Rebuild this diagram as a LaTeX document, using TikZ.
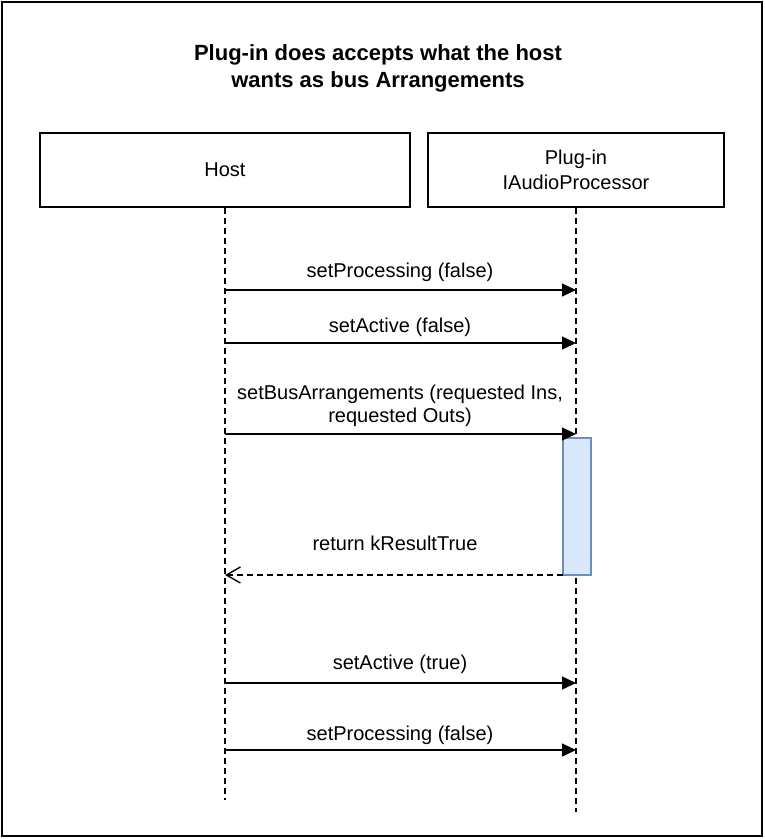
\documentclass[tikz,border=0pt]{standalone}
\usepackage{fontspec}
\setmainfont{Liberation Sans}
\usetikzlibrary{arrows.meta}
\definecolor{actfill}{HTML}{DAE8FC}
\definecolor{actdraw}{HTML}{6C8EBF}
\begin{document}
\begin{tikzpicture}[x=1pt,y=-1pt,
  lifebox/.style={draw, line width=1.5pt, inner sep=0pt, font=\fontsize{20}{25}\selectfont, align=center},
  lifeline/.style={line width=1.2pt, dash pattern=on 6pt off 4pt},
  msg/.style={line width=1.4pt, -{Triangle[length=14pt,width=13pt]}},
  ret/.style={line width=1.4pt, dash pattern=on 6pt off 4pt, -{Straight Barb[length=14pt,width=16pt,line width=1.4pt]}},
  lbl/.style={font=\fontsize{20}{23}\selectfont, align=center, inner sep=0pt},
  ttl/.style={font=\bfseries\fontsize{22}{27}\selectfont, align=center, inner sep=0pt}]
\useasboundingbox (0,0) rectangle (765,839);
\draw[line width=2pt] (2,2) rectangle (762,836);
\node[ttl] (title) at (378,68) {Plug-in does accepts what the host\\wants as bus Arrangements};
\node[lifebox, minimum width=370pt, minimum height=74pt] (host) at (225,170) {Host};
\node[lifebox, minimum width=296pt, minimum height=74pt] (plug) at (576,170) {Plug-in\\IAudioProcessor};
\coordinate (hend) at (225,800);
\coordinate (pend) at (576,812);
\draw[lifeline] (host.south) -- (hend);
\draw[lifeline] (plug.south) -- (pend);
\node[draw=actdraw, fill=actfill, line width=1.2pt, minimum width=28pt, minimum height=137pt, inner sep=0pt] (act) at (577,506.5) {};
% messages
\coordinate (h1) at (225,290); \coordinate (p1) at (576,290);
\coordinate (h2) at (225,343); \coordinate (p2) at (576,343);
\coordinate (h3) at (225,434); \coordinate (p3) at (576,434);
\coordinate (h4) at (225,575); \coordinate (p4) at (563,575);
\coordinate (h5) at (225,683); \coordinate (p5) at (576,683);
\coordinate (h6) at (225,750); \coordinate (p6) at (576,750);
\draw[msg] (h1) -- (p1);
\draw[msg] (h2) -- (p2);
\draw[msg] (h3) -- (p3);
\draw[ret] (p4) -- (h4);
\draw[msg] (h5) -- (p5);
\draw[msg] (h6) -- (p6);
\node[lbl] (l1) at (400,272) {setProcessing (false)};
\node[lbl] (l2) at (400,327) {setActive (false)};
\node[lbl] (l3) at (400,406) {setBusArrangements (requested Ins,\\requested Outs)};
\node[lbl] (l4) at (395,543) {return kResultTrue};
\node[lbl] (l5) at (400,664) {setActive (true)};
\node[lbl] (l6) at (400,735) {setProcessing (false)};
\end{tikzpicture}
\end{document}
